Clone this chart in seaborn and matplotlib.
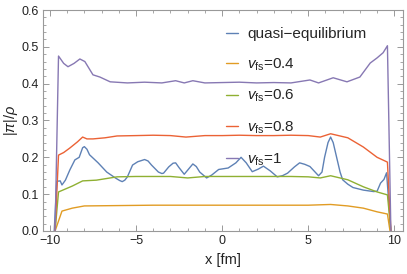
import matplotlib
matplotlib.use("Agg")
import matplotlib.pyplot as plt
from matplotlib.ticker import MultipleLocator
import pandas as pd
import seaborn as sns

# values
x_qe = [-9.75, -9.6, -9.4, -9.3, -9.1, -8.84, -8.55, -8.3, -8.1, -8.0, -7.85, -7.7, -7.2,
        -6.7, -6.2, -5.95, -5.8, -5.65, -5.5, -5.2, -4.9, -4.5, -4.3, -4.1, -3.7, -3.5,
        -3.4, -3.1, -2.85, -2.7, -2.5, -2.2, -1.95, -1.7, -1.5, -1.3, -0.9, -0.6, -0.2,
        0.35, 0.8, 1.1, 1.4, 1.75, 2.1, 2.4, 2.8, 3.2, 3.5, 3.8, 4.2, 4.5, 4.8, 5.1,
        5.4, 5.6, 5.8, 5.95, 6.15, 6.3, 6.45, 6.65, 6.85, 7.0, 7.3, 7.6, 8.2, 8.8, 9.0,
        9.2, 9.4, 9.55, 9.8]
y_qe = [0, 0.135, 0.136, 0.125, 0.138, 0.166, 0.193, 0.2, 0.226, 0.229, 0.222, 0.207, 0.185,
        0.16, 0.144, 0.137, 0.134, 0.138, 0.147, 0.179, 0.188, 0.194, 0.19, 0.179, 0.16, 0.156,
        0.157, 0.174, 0.184, 0.185, 0.172, 0.154, 0.168, 0.182, 0.175, 0.16, 0.144, 0.152, 0.167,
        0.171, 0.185, 0.2, 0.185, 0.161, 0.168, 0.176, 0.163, 0.147, 0.15, 0.157, 0.174, 0.185,
        0.181, 0.175, 0.16, 0.15, 0.16, 0.2, 0.24, 0.255, 0.24, 0.2, 0.16, 0.139, 0.127, 0.118,
        0.111, 0.107, 0.108, 0.13, 0.14, 0.158, 0]

x_04 = [-9.7, -9.3, -8.7, -8.0, -6, -4, -2, 0, 2, 4, 5, 6.3, 7.3, 8.2, 9.0, 9.6, 9.75]
y_04 = [0, 0.054, 0.062, 0.068, 0.069, 0.07, 0.07, 0.07, 0.07, 0.07, 0.07, 0.072, 0.068,
        0.062, 0.052, 0.046, 0]

x_06 = [-9.7, -9.5, -8.7, -8.1, -7.3, -6.1, -5, -4, -3, -2, -1, 0, 1, 2, 3, 4, 5, 5.7,
        6.3, 7.3, 8.2, 9.0, 9.6, 9.8]
y_06 = [0, 0.106, 0.122, 0.136, 0.138, 0.147, 0.148, 0.148, 0.148, 0.144, 0.148, 0.148,
        0.148, 0.148, 0.148, 0.148, 0.147, 0.144, 0.15, 0.139, 0.12, 0.106, 0.098, 0]

x_08 = [-9.7, -9.5, -9.2, -8.85, -8.4, -8.1, -7.85, -7.5, -6.8, -6.1, -5, -4, -3, -2.1,
        -1, 0, 1, 2, 3, 4, 5, 5.7, 6.3, 7.3, 8.2, 9.0, 9.6, 9.8]
y_08 = [0, 0.206, 0.213, 0.225, 0.242, 0.255, 0.25, 0.25, 0.253, 0.258, 0.259, 0.26, 0.259,
        0.255, 0.259, 0.259, 0.26, 0.259, 0.259, 0.26, 0.259, 0.255, 0.264, 0.253, 0.228,
        0.2, 0.187, 0]

x_10 = [-9.7, -9.5, -9.2, -8.95, -8.6, -8.26, -7.97, -7.5, -7.1, -6.5, -5.5, -4.5, -3.5,
        -2.7, -2.2, -1.7, -1.0, 0.0, 1.0, 2.0, 3.0, 4.0, 5.1, 5.6, 6.45, 7.25, 8.0, 8.6,
        9.0, 9.35, 9.6, 9.8]
y_10 = [0, 0.475, 0.455, 0.446, 0.455, 0.467, 0.46, 0.424, 0.418, 0.405, 0.402, 0.404,
        0.402, 0.408, 0.402, 0.408, 0.402, 0.403, 0.404, 0.402, 0.403, 0.402, 0.41, 0.402,
        0.416, 0.405, 0.418, 0.456, 0.47, 0.484, 0.503, 0]

labels = ["quasi\u2212equilibrium", r"$v_{\rm fs}$=0.4", r"$v_{\rm fs}$=0.6",
          r"$v_{\rm fs}$=0.8", r"$v_{\rm fs}$=1"]
colors = ["#5E81B5", "#E19C24", "#8FB032", "#EB6235", "#8778B3"]
series = [(x_qe, y_qe), (x_04, y_04), (x_06, y_06), (x_08, y_08), (x_10, y_10)]

frames = []
for lab, (xs, ys) in zip(labels, series):
    frames.append(pd.DataFrame({"x": xs, "y": ys, "series": lab}))
df = pd.concat(frames, ignore_index=True)

sns.set_style("ticks")
plt.rcParams["font.family"] = ["Liberation Sans", "DejaVu Sans"]
plt.rcParams["mathtext.fontset"] = "custom"
plt.rcParams["mathtext.rm"] = "Liberation Sans"
plt.rcParams["mathtext.it"] = "Liberation Sans:italic"

fig = plt.figure(figsize=(4.07, 2.74), dpi=100)
ax = fig.add_axes([0.1057, 0.157, 0.8843, 0.8065])

sns.lineplot(data=df, x="x", y="y", hue="series", hue_order=labels, palette=colors,
             sort=False, estimator=None, linewidth=1.0, ax=ax)

ax.set_xlim(-10.4, 10.5)
ax.set_ylim(0, 0.6)
ax.xaxis.set_major_locator(MultipleLocator(5))
ax.xaxis.set_minor_locator(MultipleLocator(1))
ax.yaxis.set_major_locator(MultipleLocator(0.1))
ax.yaxis.set_minor_locator(MultipleLocator(0.02))
ax.set_xticks([-10, -5, 0, 5, 10])
ax.set_xticklabels(["\u221210", "\u22125", "0", "5", "10"])

for sp in ax.spines.values():
    sp.set_color("#999999")
    sp.set_linewidth(0.8)
    sp.set_visible(True)
ax.tick_params(which="both", direction="in", top=True, right=True, color="#999999",
               labelsize=9, labelcolor="#222222", pad=3)
ax.tick_params(which="major", length=4, width=0.7)
ax.tick_params(which="minor", length=2, width=0.6)

ax.set_xlabel("x [fm]", fontsize=10.5, color="#222222", labelpad=4)
ax.set_ylabel(r"$|\pi|/\rho$", fontsize=10.5, color="#222222", labelpad=1)

leg = ax.legend(loc="upper left", bbox_to_anchor=(0.47, 0.985), frameon=False,
                fontsize=11, handlelength=0.8, handletextpad=0.6, labelspacing=1.0)

fig.savefig("out.png", dpi=100)
